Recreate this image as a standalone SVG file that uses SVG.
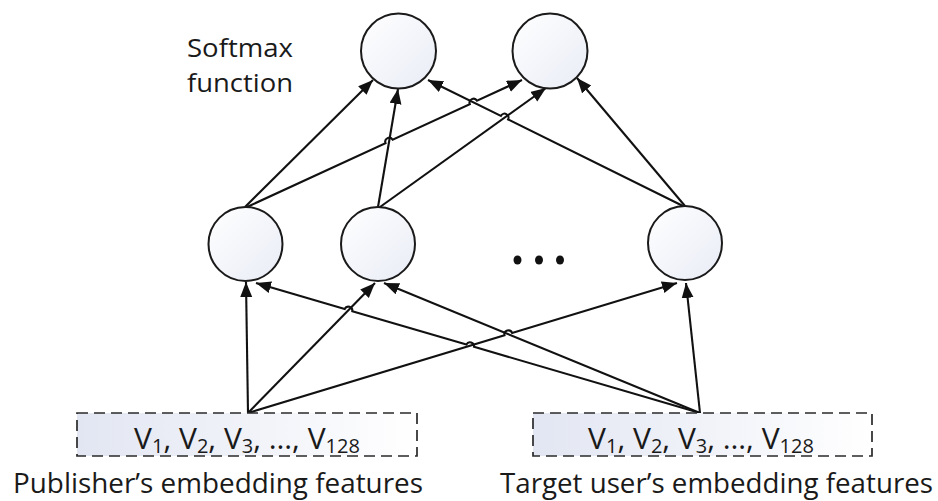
<svg xmlns="http://www.w3.org/2000/svg" width="938" height="501" viewBox="0 0 938 501">
<style>
.node{stroke:#1a1a1a;stroke-width:2;fill:url(#cg)}
.conn{stroke:#111;stroke-width:2.1;fill:none;marker-end:url(#ah)}
.box{stroke:#2a2a2a;stroke-width:1.7;stroke-dasharray:11 6;fill:url(#bg)}
.t{font-family:"Open Sans","Noto Sans","Liberation Sans",sans-serif;fill:#1a1a1a}
.lbl{font-size:27px}
.sm{font-size:25px}
.vt{font-size:30px}
.sub{font-size:20px}
</style>
<defs>
<linearGradient id="cg" x1="0" y1="0" x2="1" y2="1">
<stop offset="0" stop-color="#ffffff"/>
<stop offset="1" stop-color="#e9ecf6"/>
</linearGradient>
<linearGradient id="bg" x1="0" y1="0" x2="1" y2="0">
<stop offset="0" stop-color="#e2e6f2"/>
<stop offset="1" stop-color="#ffffff"/>
</linearGradient>
<marker id="ah" markerUnits="userSpaceOnUse" markerWidth="16" markerHeight="13" refX="15" refY="6" orient="auto">
<path d="M0,0 L15,6 L0,12 z" fill="#111"/>
</marker>
</defs>
<rect width="938" height="501" fill="#ffffff"/>

<g id="connectors">
<path class="conn" d="M245,207 L373,80"/>
<path class="conn" d="M247,207 L385.5,143.1 A4,4 0 0 1 392.7,139.7 L469.8,104.1 A4,4 0 0 1 477,100.7 L522,80"/>
<path class="conn" d="M378,207 L398,89"/>
<path class="conn" d="M380,207 L546,88"/>
<path class="conn" d="M683,206 L508.1,119.5 A4,4 0 0 0 500.9,115.9 L428,80"/>
<path class="conn" d="M685,206 L577,78"/>
<path class="conn" d="M248,413 L246,282"/>
<path class="conn" d="M248,413 L375,283"/>
<path class="conn" d="M248,413 L504.5,335.3 A4,4 0 0 1 512.1,332.9 L677,283"/>
<path class="conn" d="M700,413 L474,346.8 A4,4 0 0 0 466.4,344.6 L352.3,311.2 A4,4 0 0 0 344.7,309 L256,283"/>
<path class="conn" d="M700,413 L384,283"/>
<path class="conn" d="M700,413 L686,283"/>
</g>

<g id="out1"><circle class="node" cx="398.5" cy="51" r="37.5"/></g>
<g id="out2"><circle class="node" cx="550" cy="51" r="37.5"/></g>
<g id="softmax-label"><text class="t sm" x="187" y="57" textLength="106" lengthAdjust="spacingAndGlyphs">Softmax</text><text class="t sm" x="187" y="92" textLength="106" lengthAdjust="spacingAndGlyphs">function</text></g>

<g id="hid1"><circle class="node" cx="245.5" cy="244" r="37"/></g>
<g id="hid2"><circle class="node" cx="378" cy="244" r="37"/></g>
<g id="hid3"><circle class="node" cx="685" cy="243" r="37"/></g>
<g id="ellipsis">
<ellipse cx="517.5" cy="260" rx="4" ry="4.5" fill="#111"/>
<ellipse cx="539" cy="260" rx="4" ry="4.5" fill="#111"/>
<ellipse cx="560" cy="260" rx="4" ry="4.5" fill="#111"/>
</g>

<g id="publisher">
<rect class="box" x="77" y="413" width="340" height="43"/>
<text class="t vt" x="247" y="449" text-anchor="middle">V<tspan class="sub" dy="4">1</tspan><tspan dy="-4">, V</tspan><tspan class="sub" dy="4">2</tspan><tspan dy="-4">, V</tspan><tspan class="sub" dy="4">3</tspan><tspan dy="-4">, …, V</tspan><tspan class="sub" dy="4">128</tspan></text>
<text class="t lbl" x="13" y="493" textLength="410" lengthAdjust="spacingAndGlyphs">Publisher’s embedding features</text>
</g>

<g id="target">
<rect class="box" x="533" y="413" width="339" height="43"/>
<text class="t vt" x="701" y="449" text-anchor="middle">V<tspan class="sub" dy="4">1</tspan><tspan dy="-4">, V</tspan><tspan class="sub" dy="4">2</tspan><tspan dy="-4">, V</tspan><tspan class="sub" dy="4">3</tspan><tspan dy="-4">, …, V</tspan><tspan class="sub" dy="4">128</tspan></text>
<text class="t lbl" x="500" y="493" textLength="433" lengthAdjust="spacingAndGlyphs">Target user’s embedding features</text>
</g>
</svg>
